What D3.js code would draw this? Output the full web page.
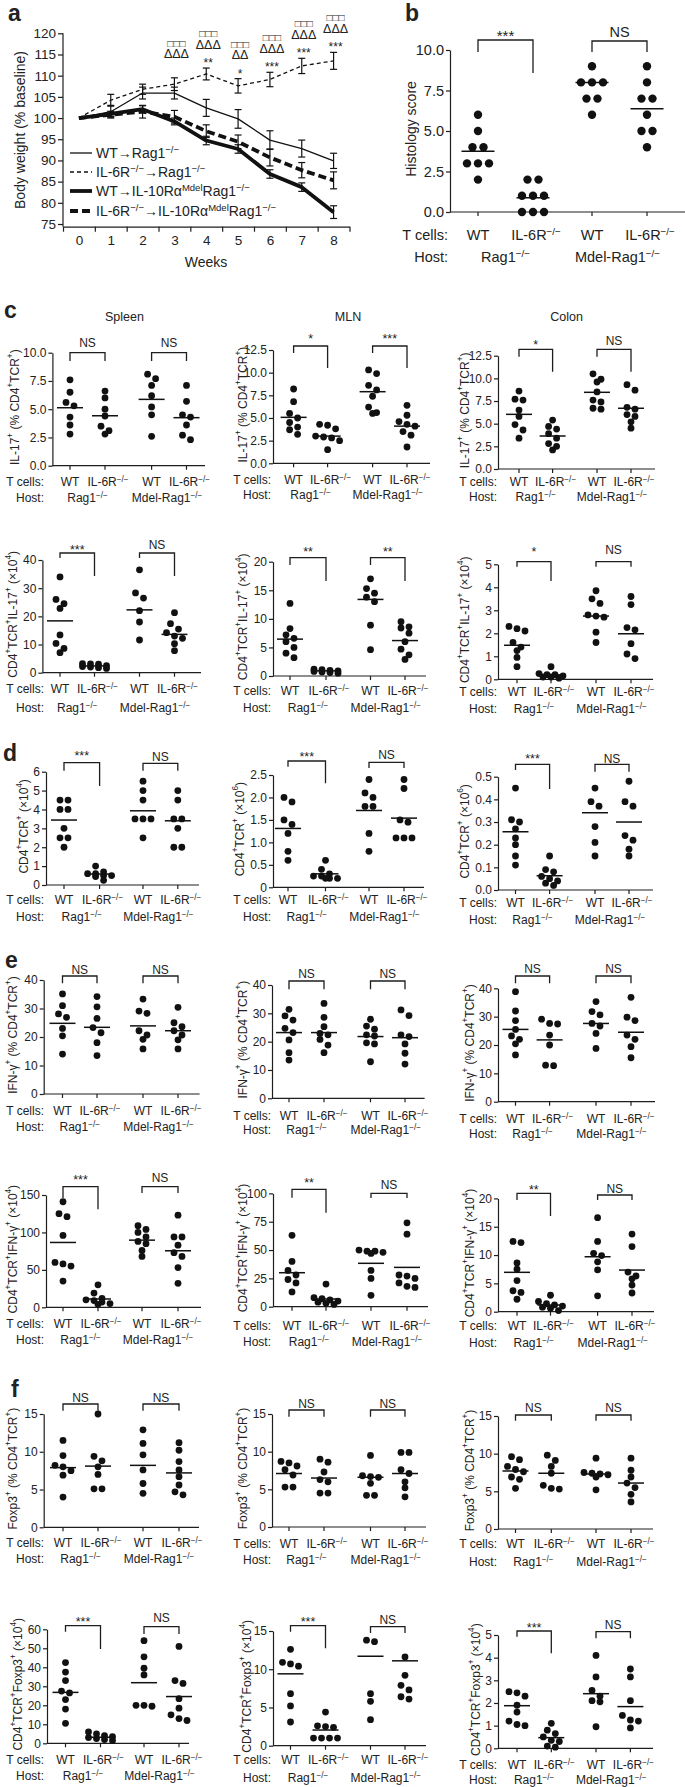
<!DOCTYPE html>
<html><head><meta charset="utf-8">
<script src="https://cdn.jsdelivr.net/npm/d3@7"></script>
<style>
body{margin:0;background:#fff}
svg{display:block;background:#fff}
text{font-family:"Liberation Sans",Arial,Helvetica,"DejaVu Sans",sans-serif;fill:#222}
</style>
</head><body>
<svg id="fig" width="685" height="1787"></svg>
<script>
// ---------------- DATA ----------------
// Panel a: body weight (% baseline) by week
const weeks = [0,1,2,3,4,5,6,7,8];
const wtRag       = [100,101.5,105.9,105.9,102.4,99.8,94.8,92.8,89.9];
const wtRagErr    = [0,1.5,1.4,1.4,2.0,2.2,2.2,2.0,1.8];
const il6rRag     = [100,104.2,106.8,108.0,110.4,107.6,109.1,112.3,113.5];
const il6rRagErr  = [0,1.4,1.2,1.5,1.4,1.7,1.7,1.8,2.0];
const wtMdel      = [100,101.0,102.1,99.2,94.7,92.7,86.8,83.7,77.8];
const wtMdelErr   = [0,0.6,0.8,0.8,1.0,1.0,1.0,1.0,1.5];
const il6rMdel    = [100,100.8,101.5,100.3,96.9,94.4,90.7,87.7,85.3];
const il6rMdelErr = [0,0.6,1.5,1.5,1.5,1.6,2.0,1.8,2.0];
const legendLabels = ['WT→Rag1^{−/−}','IL-6R^{−/−}→Rag1^{−/−}','WT→IL-10Rα^{Mdel}Rag1^{−/−}','IL-6R^{−/−}→IL-10Rα^{Mdel}Rag1^{−/−}'];
const sigSquares   = ['','','','□□□','□□□','□□□','□□□','□□□','□□□'];
const sigTriangles = ['','','','ΔΔΔ','ΔΔΔ','ΔΔ','ΔΔΔ','ΔΔΔ','ΔΔΔ'];
const sigStars     = ['','','','','**','*','***','***','***'];

// group labels
const tcellLabels = ['WT','IL-6R^{−/−}','WT','IL-6R^{−/−}'];
const hostLabels  = ['Rag1^{−/−}','Mdel-Rag1^{−/−}'];

// Panel b: histology score
const bHist     = [[6,5,4,4,3,3,3,2],[2,2,1,1,1,0,0,0],[9,8,8,8,7,7,6],[9,8,7,7,6,5,5,4]];
const bHistMean = [3.75,0.875,8.0,6.375];

// Panel c: IL-17+ (% CD4+TCR+)
const cPctSpleen = [[7.6,6.5,5.6,5.3,4.3,3.6,2.8],[6.6,6.0,5.0,4.4,3.5,3.1,2.8],[8.1,7.7,7.1,6.2,5.2,4.5,2.6],[7.1,5.7,4.5,4.3,3.6,2.7,2.3]];
const cPctSpleenMean = [5.13,4.42,5.87,4.25];
const cPctMLN = [[8.2,6.8,5.5,5.0,4.5,4.0,3.7,3.2],[4.3,4.2,3.8,3.0,2.9,2.8,2.5,1.5],[10.3,9.9,8.6,8.1,7.4,6.2,5.6,5.5],[6.4,5.3,4.6,4.3,4.1,3.5,3.1,1.8]];
const cPctMLNMean = [5.07,3.0,7.9,4.1];
const cPctColon = [[8.6,7.7,7.6,6.5,5.8,4.9,4.3,3.4],[5.4,4.7,4.4,3.9,3.4,2.8,2.5,2.1],[10.5,9.9,9.6,8.5,7.6,7.4,6.7,6.6],[9.3,8.7,6.8,6.6,6.0,5.8,5.2,4.5]];
const cPctColonMean = [6.03,3.64,8.46,6.7];
// Panel c: CD4+TCR+IL-17+ (x10^4)
const cAbsSpleen = [[34,26,24.5,22.8,13.4,10.4,8.6,7.1],[3.2,3.1,3.0,2.5,2.2,2.0,1.8,1.5],[36.5,28.3,26.5,22,18,11.6],[21.3,17.4,15.5,14.2,13,12.2,10.3,7.8]];
const cAbsSpleenMean = [18.4,2.4,22.3,13.6];
const cAbsMLN = [[12.7,8.3,7.2,6.6,6.0,5.0,4.0,3.2],[1.2,1.1,1.0,0.9,0.8,0.7,0.6,0.5],[17,15.3,14.5,13.8,13,8.9,4.6],[9.5,8.6,8.4,7.5,6.0,4.7,3.7,2.9]];
const cAbsMLNMean = [6.45,0.9,13.4,6.2];
const cAbsColon = [[2.3,2.2,2.1,1.6,1.4,1.25,0.95,0.55],[0.55,0.25,0.2,0.2,0.15,0.1,0.1,0.05],[3.85,3.5,3.3,2.8,2.75,2.7,2.05,1.6],[3.6,3.25,2.25,2.15,1.55,1.1,0.9]];
const cAbsColonMean = [1.48,0.19,2.75,1.98];

// Panel d: CD4+TCR+
const dSpleen = [[4.5,4.5,4,4,3,2.5,2.5,2],[1.0,0.7,0.6,0.6,0.5,0.5,0.45,0.25],[5.5,5,4.5,3.5,3.5,3.5,2.5],[5,4.5,3.5,3.5,3.0,2.0,2.0]];
const dSpleenMean = [3.44,0.58,3.93,3.4];
const dMLN = [[2.0,1.9,1.5,1.4,1.2,0.8,0.6],[0.6,0.4,0.3,0.25,0.25,0.2,0.2,0.2],[2.4,2.1,2.0,1.8,1.8,1.2,0.8],[2.4,2.2,1.5,1.45,1.1,1.1,1.1]];
const dMLNMean = [1.31,0.3,1.71,1.54];
const dColon = [[0.45,0.31,0.30,0.27,0.23,0.20,0.15,0.11],[0.15,0.09,0.08,0.06,0.05,0.04,0.03,0.02],[0.45,0.39,0.37,0.28,0.21,0.15],[0.48,0.39,0.37,0.24,0.22,0.18,0.15]];
const dColonMean = [0.257,0.063,0.341,0.30];

// Panel e: IFN-γ+ (% CD4+TCR+)
const ePctSpleen = [[35.1,31,28.1,26.9,23,20.4,14],[34.2,30.6,26.5,23.3,21.5,18,13.5],[33.3,29.1,28.3,22.2,20.7,19.2,15.8],[30.4,25,23.6,22.2,20.7,19,15.8]];
const ePctSpleenMean = [24.8,23.4,23.9,22.2];
const ePctMLN = [[31.4,29.1,27.6,24.7,23.2,20.6,16.1,13.5],[33.5,28.6,25.3,22.9,22.4,20.8,18.8,16.1],[27.9,25.5,24.4,22.4,22,19.6,19.2,12.9],[31.2,29.2,22.4,21.8,19.2,15.9,12.1]];
const ePctMLNMean = [23.2,23.2,21.8,21.4];
const ePctColon = [[38.8,32,28.6,25.5,23.2,22,20.4,16.5],[29.1,27.6,27.4,23.5,20,12.9,12.7],[35.3,31.8,30.6,27.6,26.7,24.1,18.8],[36.8,29.8,28.6,23.5,22,19.4,15.5]];
const ePctColonMean = [25.5,21.8,27.6,24.5];
// Panel e: CD4+TCR+IFN-γ+ (x10^4)
const eAbsSpleen = [[141,125,121,96,60,58,55,35],[30,19,12,10,9,7,5,4],[109,104,100,94,88,85,76,68],[123,94,94,83,73,68,53,32]];
const eAbsSpleenMean = [86.6,11.1,89.7,75.5];
const eAbsMLN = [[63,40,32,28,24,21,13],[20,8,7,6,5,4,3,2],[50,49,49,48,47,32,25,10],[74,64,28,27,25,21,18,17]];
const eAbsMLNMean = [30,6.8,38.3,34.7];
const eAbsColon = [[12.4,12.2,8.6,7.5,5.5,3.7,3.4,2.2],[2.9,1.8,1.4,1.2,1.0,0.8,0.6,0.2],[16.6,12.4,10.3,9.9,8.8,7.4,2.8],[13.7,11.5,7.0,6.3,5.8,4.7,3.3]];
const eAbsColonMean = [6.95,1.18,9.7,7.35];

// Panel f: Foxp3+ (% CD4+TCR+)
const fPctSpleen = [[11.5,9.5,8.2,8.0,7.5,6.9,4.0],[15,9.4,8.8,8,7,5.1,5.1],[12.9,11.1,9.6,7.6,5.8,4.5],[11.2,10.2,8.7,7.6,6.7,5.6,4.7,4.3]];
const fPctSpleenMean = [7.9,8.1,8.2,7.2];
const fPctMLN = [[8.7,8.5,8.1,7.6,6.9,5.3,5.3],[9,8.6,7.3,6.3,6,4.5,4.5],[9.5,6.8,6.7,6.6,5.8,4.2,4.2],[9.9,9.9,7.6,7.1,6.0,5.2,4.0]];
const fPctMLNMean = [7.1,6.5,6.6,7.1];
const fPctColon = [[9.6,9.2,8.3,7.9,7.6,6.9,6.6,5.4],[9.8,9.1,8.3,7.4,5.8,5.4,5.3],[9.4,7.5,7.4,7.3,7.2,6.9,5.2],[9.4,7.8,6.9,6.1,5.5,4.6,3.6]];
const fPctColonMean = [7.7,7.4,7.3,6.1];
// Panel f: CD4+TCR+Foxp3+ (x10^4)
const fAbsSpleen = [[42.5,37.5,33,27.5,26.5,23,18,10.5],[6,5,4,3.5,3,2.5,2,1.5],[54,45.5,39.5,36,20,20,19.5],[51,33,31.5,23.5,18.5,15,13,12]];
const fAbsSpleenMean = [26.8,3.2,31.9,24.6];
const fAbsMLN = [[12.6,10.9,10.7,10.4,6.8,5.2,3.1],[4.4,2.6,2.5,2.4,1.0,1.0,1.0,1.0],[13.8,13.6,6.8,5.8,3.4],[11.6,9.2,7.9,7.3,6.4,6.1]];
const fAbsMLNMean = [9.4,2.05,11.7,11.1];
const fAbsColon = [[2.5,2.45,2.3,1.9,1.6,1.2,1.05,1.0],[1.1,0.8,0.65,0.5,0.35,0.3,0.1,0.05],[4.1,3.15,2.55,2.3,2.1,2.05,0.95],[3.5,3.15,2.1,1.45,1.25,1.2,0.9]];
const fAbsColonMean = [1.88,0.47,2.41,1.84];

// axis titles
const tIL17pct = 'IL-17^{+} (% CD4^{+}TCR^{+})';
const tIL17abs = 'CD4^{+}TCR^{+}IL-17^{+} (×10^{4})';
const tCD4e4 = 'CD4^{+}TCR^{+} (×10^{4})';
const tCD4e6 = 'CD4^{+}TCR^{+} (×10^{6})';
const tIFNpct = 'IFN-γ^{+} (% CD4^{+}TCR^{+})';
const tIFNabs = 'CD4^{+}TCR^{+}IFN-γ^{+} (×10^{4})';
const tFoxpct = 'Foxp3^{+} (% CD4^{+}TCR^{+})';
const tFoxabs = 'CD4^{+}TCR^{+}Foxp3^{+} (×10^{4})';

// ---------------- DRAWING ----------------
const svg = d3.select('#fig');
const INK = '#1e1e1e';
const FONT = '"Liberation Sans", Arial, Helvetica, "DejaVu Sans", sans-serif';

function rich(t, str) {
  str.split(/(\^\{[^}]*\})/).filter(s => s).forEach(s => {
    if (s.startsWith('^{')) t.append('tspan').attr('baseline-shift', 'super').attr('font-size', '68%').text(s.slice(2, -1));
    else t.append('tspan').text(s);
  });
  return t;
}
function label(x, y, str, fs, anchor, weight) {
  const t = svg.append('text').attr('x', x).attr('y', y).attr('font-size', fs)
    .attr('text-anchor', anchor || 'start').attr('font-weight', weight || 'normal');
  return rich(t, str);
}
function styleAxis(g, fs) {
  g.attr('font-family', FONT).attr('font-size', fs);
  g.selectAll('path,line').attr('stroke', INK).attr('stroke-width', 1.2);
  g.selectAll('text').attr('fill', INK);
}

// panel letters
[['a', 8, 21], ['b', 405, 21], ['c', 4, 318], ['d', 3, 761], ['e', 5, 968], ['f', 11, 1397]]
  .forEach(([s, x, y]) => label(x, y, s, 23, 'start', 'bold'));

// ---------- Panel a ----------
(function () {
  const x = d3.scaleLinear().domain([-0.5, 8.5]).range([63, 349.5]);
  const y = d3.scaleLinear().domain([75, 120]).range([224, 33.3]);
  const yBase = 226.7;
  const g = svg.append('g');
  const ya = g.append('g').attr('transform', 'translate(63,0)')
    .call(d3.axisLeft(y).tickValues(d3.range(75, 121, 5)).tickSize(5).tickPadding(2).tickSizeOuter(0));
  ya.select('.domain').remove();
  styleAxis(ya, 13.5);
  g.append('line').attr('x1', 63).attr('x2', 63).attr('y1', 33.3).attr('y2', yBase).attr('stroke', INK).attr('stroke-width', 1.2);
  const xa = g.append('g').attr('transform', `translate(0,${yBase})`)
    .call(d3.axisBottom(x).tickValues(d3.range(-0.5, 8.6, 1)).tickFormat('').tickSize(5).tickSizeOuter(0));
  styleAxis(xa, 13.5);
  const xl = g.append('g').attr('transform', `translate(0,${yBase})`)
    .call(d3.axisBottom(x).tickValues(weeks).tickSize(0).tickPadding(9));
  xl.select('.domain').remove();
  styleAxis(xl, 13.5);
  label(206, 267, 'Weeks', 14, 'middle');
  svg.append('text').attr('transform', `translate(20,130) rotate(-90)`).attr('text-anchor', 'middle')
    .attr('dominant-baseline', 'central').attr('font-size', 14).text('Body weight (% baseline)');

  const series = [
    { v: wtRag, e: wtRagErr, w: 1.3, dash: null },
    { v: il6rRag, e: il6rRagErr, w: 1.3, dash: '4,3' },
    { v: wtMdel, e: wtMdelErr, w: 3.8, dash: null },
    { v: il6rMdel, e: il6rMdelErr, w: 3.8, dash: '8,4' }
  ];
  const line = d3.line().x(d => x(d.w)).y(d => y(d.v));
  series.forEach(s => {
    const pts = weeks.map((w, i) => ({ w, v: s.v[i], e: s.e[i] }));
    g.append('path').datum(pts).attr('d', line).attr('fill', 'none').attr('stroke', '#111')
      .attr('stroke-width', s.w).attr('stroke-dasharray', s.dash).attr('stroke-linejoin', 'round');
    const eb = g.append('g').attr('stroke', '#111').attr('stroke-width', 1.2);
    pts.filter(d => d.e > 0).forEach(d => {
      eb.append('line').attr('x1', x(d.w)).attr('x2', x(d.w)).attr('y1', y(d.v - d.e)).attr('y2', y(d.v + d.e));
      [d.v - d.e, d.v + d.e].forEach(v => eb.append('line').attr('x1', x(d.w) - 3.5).attr('x2', x(d.w) + 3.5).attr('y1', y(v)).attr('y2', y(v)));
    });
  });
  // legend
  const ly = [153, 172, 191, 211];
  series.forEach((s, i) => {
    g.append('line').attr('x1', 70).attr('x2', 92).attr('y1', ly[i]).attr('y2', ly[i]).attr('stroke', '#111')
      .attr('stroke-width', s.w).attr('stroke-dasharray', s.dash);
    label(96, ly[i] + 5, legendLabels[i], 14, 'start');
  });
  // significance marks above the IL-6R->Rag1 curve
  weeks.forEach((w, i) => {
    const top = y(il6rRag[i] + il6rRagErr[i]);
    const cx = x(w) + 2;
    if (sigStars[i]) svg.append('text').attr('x', cx).attr('y', top - 8 + 7).attr('text-anchor', 'middle').attr('font-size', 12).text(sigStars[i]);
    if (sigTriangles[i]) svg.append('text').attr('x', cx).attr('y', top - 24 + 4.5).attr('text-anchor', 'middle').attr('font-size', 12.5).text(sigTriangles[i]);
    if (sigSquares[i]) svg.append('text').attr('x', cx).attr('y', top - 35 + 4).attr('text-anchor', 'middle').attr('font-size', 10).text(sigSquares[i]);
  });
})();

// ---------- dot-plot panels ----------
const fmt1 = d3.format('.1f');
const fmtInt = d3.format('d');
const fmtZero1 = d => d === 0 ? '0' : fmt1(d);

function swarm(vals, y, cx, r, sp) {
  const pts = vals.map(v => ({ v, py: y(v) })).sort((a, b) => a.py - b.py);
  const binH = r * 1.7;
  const rows = [];
  let cur = null;
  pts.forEach(p => {
    if (!cur || p.py - cur[0].py > binH || cur.length >= 4) { cur = [p]; rows.push(cur); }
    else cur.push(p);
  });
  rows.forEach(row => row.forEach((p, i) => { p.px = cx + (i - (row.length - 1) / 2) * sp; }));
  return pts;
}

function dotPanel(p) {
  const fs = p.fs || 12, r = p.r || 3.4, sp = p.sp || 8, hw = p.hw || 13;
  const g = svg.append('g');
  const y = d3.scaleLinear().domain([0, p.max]).range([p.y0, p.y1]);
  const x = d3.scaleOrdinal().domain([0, 1, 2, 3]).range(p.cats);
  const ticks = d3.range(0, p.max + p.step * 0.01, p.step);
  const ya = g.append('g').attr('transform', `translate(${p.ax},0)`)
    .call(d3.axisLeft(y).tickValues(ticks).tickFormat(p.fmt).tickSize(4).tickPadding(2).tickSizeOuter(0));
  styleAxis(ya, fs);
  g.append('line').attr('x1', p.ax).attr('x2', p.axEnd).attr('y1', p.y0).attr('y2', p.y0)
    .attr('stroke', INK).attr('stroke-width', 1.2);
  g.selectAll(null).data([0, 1, 2, 3]).join('line')
    .attr('x1', d => x(d)).attr('x2', d => x(d)).attr('y1', p.y0).attr('y2', p.y0 + 4)
    .attr('stroke', INK).attr('stroke-width', 1.2);
  p.data.forEach((vals, gi) => {
    const pts = swarm(vals, y, x(gi), r, sp);
    g.selectAll(null).data(pts).join('circle')
      .attr('cx', d => d.px).attr('cy', d => d.py).attr('r', r).attr('fill', '#111');
    g.append('line').attr('x1', x(gi) - hw).attr('x2', x(gi) + hw)
      .attr('y1', y(p.means[gi])).attr('y2', y(p.means[gi])).attr('stroke', '#111').attr('stroke-width', 1.5);
  });
  [[0, 1], [2, 3]].forEach((pair, bi) => {
    const [top, l, rr] = p.br[bi];
    g.append('path').attr('d', `M${x(pair[0])},${l}V${top}H${x(pair[1])}V${rr}`)
      .attr('fill', 'none').attr('stroke', INK).attr('stroke-width', 1.3);
    const s = p.sig[bi];
    const star = s.includes('*');
    const sfs = star ? (p.starFs || 12.5) : (p.nsFs || 12);
    svg.append('text').attr('x', (x(pair[0]) + x(pair[1])) / 2)
      .attr('y', p.sigY[bi] + (star ? 0.6 : 0.36) * sfs)
      .attr('text-anchor', 'middle').attr('font-size', sfs).text(s);
  });
  label(p.lx, p.tY + 0.36 * fs, 'T cells:', fs, 'end');
  label(p.lx, p.hY + 0.36 * fs, 'Host:', fs, 'end');
  tcellLabels.forEach((t, i) => label(x(i) + (i % 2 ? 3 : 0), p.tY + 0.36 * fs, t, fs, 'middle'));
  hostLabels.forEach((h, i) => label((x(2 * i) + x(2 * i + 1)) / 2 + (i ? -2 : 0), p.hY + 0.36 * fs, h, fs, 'middle'));
  const t = svg.append('text').attr('transform', `translate(${p.tx},${(p.y0 + p.y1) / 2 - 2}) rotate(-90)`)
    .attr('text-anchor', 'middle').attr('dominant-baseline', 'central').attr('font-size', p.tfs || fs);
  rich(t, p.title);
  if (p.head) label(p.headX, 321, p.head, 12.5, 'middle');
}

const panels = [
  // b
  { data: bHist, means: bHistMean, max: 10, step: 2.5, fmt: fmt1, ax: 450, axEnd: 685, y0: 212, y1: 50,
    cats: [478, 533, 592, 647], br: [[40, 52, 73], [41, 52, 52]], sig: ['***', 'NS'], sigY: [32, 32],
    tY: 235, hY: 257, lx: 448, tx: 411, title: 'Histology score', fs: 14.5, tfs: 14, r: 4.2, sp: 11, hw: 16.5,
    starFs: 15, nsFs: 14.5 },
  // c row 1
  { data: cPctSpleen, means: cPctSpleenMean, max: 10, step: 2.5, fmt: fmt1, ax: 52.4, axEnd: 205, y0: 465.7, y1: 352.7,
    cats: [70, 105, 151.6, 186.5], br: [[352.7, 361, 361], [352.7, 361, 361]], sig: ['NS', 'NS'], sigY: [343, 343],
    tY: 481.7, hY: 497.3, lx: 44, tx: 15, title: tIL17pct, head: 'Spleen', headX: 124.5 },
  { data: cPctMLN, means: cPctMLNMean, max: 12.5, step: 2.5, fmt: fmt1, ax: 273, axEnd: 430, y0: 463.3, y1: 350,
    cats: [293.6, 327.6, 372.6, 407], br: [[346, 353, 368], [346, 353, 368]], sig: ['*', '***'], sigY: [335, 335],
    tY: 480, hY: 495, lx: 271, tx: 242.5, title: tIL17pct, head: 'MLN', headX: 348 },
  { data: cPctColon, means: cPctColonMean, max: 12.5, step: 2.5, fmt: fmt1, ax: 498, axEnd: 655, y0: 469, y1: 355.7,
    cats: [519, 552.6, 597, 631], br: [[349.3, 356.7, 371.7], [349.3, 356.7, 371.7]], sig: ['*', 'NS'], sigY: [341.7, 340.7],
    tY: 481.7, hY: 496.7, lx: 497, tx: 465, title: tIL17pct, head: 'Colon', headX: 566.6 },
  // c row 2
  { data: cAbsSpleen, means: cAbsSpleenMean, max: 40, step: 10, fmt: fmtInt, ax: 42.4, axEnd: 201, y0: 672.7, y1: 560,
    cats: [60, 94.5, 139.5, 174.5], br: [[553, 558, 576], [553, 558, 576]], sig: ['***', 'NS'], sigY: [546, 545],
    tY: 688.3, hY: 707.3, lx: 44, tx: 13, title: tIL17abs },
  { data: cAbsMLN, means: cAbsMLNMean, max: 20, step: 5, fmt: fmtInt, ax: 273, axEnd: 426, y0: 676, y1: 561.7,
    cats: [290, 326, 370.5, 405], br: [[557.7, 565, 581], [557.7, 565, 581]], sig: ['**', '**'], sigY: [548.3, 548.3],
    tY: 690.7, hY: 707.3, lx: 271, tx: 242.5, title: tIL17abs },
  { data: cAbsColon, means: cAbsColonMean, max: 5, step: 1, fmt: fmtInt, ax: 498, axEnd: 653, y0: 679.3, y1: 564.3,
    cats: [517, 551, 596, 631], br: [[561.7, 566.7, 581], [561.7, 566.7, 566.7]], sig: ['*', 'NS'], sigY: [548.3, 550],
    tY: 691.7, hY: 708.3, lx: 497, tx: 465, title: tIL17abs },
  // d
  { data: dSpleen, means: dSpleenMean, max: 6, step: 1, fmt: fmtInt, ax: 46, axEnd: 199, y0: 885, y1: 771.7,
    cats: [64, 99.6, 143, 177.8], br: [[762.7, 770.7, 786], [763.3, 770.7, 770.7]], sig: ['***', 'NS'], sigY: [752.7, 756.7],
    tY: 900, hY: 916.7, lx: 44, tx: 24, title: tCD4e4 },
  { data: dMLN, means: dMLNMean, max: 2.5, step: 0.5, fmt: fmtZero1, ax: 273, axEnd: 424, y0: 887.3, y1: 775,
    cats: [288, 325.5, 369, 404], br: [[761, 766.7, 783.3], [762.3, 768, 768]], sig: ['***', 'NS'], sigY: [753, 755],
    tY: 900, hY: 916.5, lx: 271, tx: 240, title: tCD4e6 },
  { data: dColon, means: dColonMean, max: 0.5, step: 0.1, fmt: fmt1, ax: 498, axEnd: 653, y0: 890, y1: 776.7,
    cats: [515.5, 549.6, 595, 629], br: [[764.3, 770, 789], [764.3, 771.7, 771.7]], sig: ['***', 'NS'], sigY: [755, 759],
    tY: 902.5, hY: 919.5, lx: 497, tx: 465, title: tCD4e6 },
  // e row 1
  { data: ePctSpleen, means: ePctSpleenMean, max: 40, step: 10, fmt: fmtInt, ax: 43.7, axEnd: 199.6, y0: 1094, y1: 980,
    cats: [62.5, 97, 143, 178], br: [[976, 983.3, 983.3], [976, 983.3, 983.3]], sig: ['NS', 'NS'], sigY: [969.3, 969.3],
    tY: 1110.7, hY: 1126.7, lx: 44, tx: 13, title: tIFNpct },
  { data: ePctMLN, means: ePctMLNMean, max: 40, step: 10, fmt: fmtInt, ax: 272, axEnd: 424.6, y0: 1098.3, y1: 985,
    cats: [289, 324, 370.5, 405], br: [[981, 989.3, 989.3], [981, 989.3, 989.3]], sig: ['NS', 'NS'], sigY: [974, 974],
    tY: 1116, hY: 1130, lx: 271, tx: 242.5, title: tIFNpct },
  { data: ePctColon, means: ePctColonMean, max: 40, step: 10, fmt: fmtInt, ax: 498, axEnd: 655, y0: 1101.7, y1: 988.3,
    cats: [515.5, 549.6, 596, 631], br: [[976, 983.3, 983.3], [976, 983.3, 983.3]], sig: ['NS', 'NS'], sigY: [968.3, 968.3],
    tY: 1118.3, hY: 1134, lx: 497, tx: 469.6, title: tIFNpct },
  // e row 2
  { data: eAbsSpleen, means: eAbsSpleenMean, max: 150, step: 50, fmt: fmtInt, ax: 46, axEnd: 201, y0: 1307.3, y1: 1195,
    cats: [63, 98, 142, 178], br: [[1186.7, 1198, 1209.3], [1186.7, 1193, 1193]], sig: ['***', 'NS'], sigY: [1176, 1178],
    tY: 1323.3, hY: 1339.3, lx: 44, tx: 13, title: tIFNabs },
  { data: eAbsMLN, means: eAbsMLNMean, max: 100, step: 25, fmt: fmtInt, ax: 273, axEnd: 428, y0: 1306.7, y1: 1193.4,
    cats: [292, 326, 371, 407], br: [[1189.3, 1197.7, 1212.7], [1193.3, 1198, 1198]], sig: ['**', 'NS'], sigY: [1179.3, 1185],
    tY: 1326, hY: 1341.7, lx: 271, tx: 242.5, title: tIFNabs },
  { data: eAbsColon, means: eAbsColonMean, max: 20, step: 5, fmt: fmtInt, ax: 498, axEnd: 654, y0: 1311.7, y1: 1198.4,
    cats: [517, 550.5, 597.6, 632], br: [[1193.3, 1200, 1216], [1195, 1200, 1200]], sig: ['**', 'NS'], sigY: [1186, 1188.3],
    tY: 1326, hY: 1342.3, lx: 497, tx: 470, title: tIFNabs },
  // f row 1
  { data: fPctSpleen, means: fPctSpleenMean, max: 15, step: 5, fmt: fmtInt, ax: 43.7, axEnd: 199, y0: 1527.3, y1: 1414,
    cats: [63, 98, 143, 179], br: [[1404, 1410.7, 1410.7], [1404, 1410.7, 1410.7]], sig: ['NS', 'NS'], sigY: [1397.7, 1397.7],
    tY: 1542.7, hY: 1558.3, lx: 44, tx: 13, title: tFoxpct },
  { data: fPctMLN, means: fPctMLNMean, max: 15, step: 5, fmt: fmtInt, ax: 272, axEnd: 426, y0: 1527, y1: 1414,
    cats: [289, 324, 370.5, 405], br: [[1410, 1416.7, 1416.7], [1410, 1416.7, 1416.7]], sig: ['NS', 'NS'], sigY: [1403.3, 1403.3],
    tY: 1543.3, hY: 1560, lx: 271, tx: 242.5, title: tFoxpct },
  { data: fPctColon, means: fPctColonMean, max: 15, step: 5, fmt: fmtInt, ax: 498, axEnd: 653, y0: 1529, y1: 1416,
    cats: [515.5, 551.3, 596, 631], br: [[1415, 1420.7, 1420.7], [1415, 1420.7, 1420.7]], sig: ['NS', 'NS'], sigY: [1407.3, 1407.3],
    tY: 1544, hY: 1561.7, lx: 497, tx: 469.6, title: tFoxpct },
  // f row 2
  { data: fAbsSpleen, means: fAbsSpleenMean, max: 60, step: 10, fmt: fmtInt, ax: 47, axEnd: 189, y0: 1743.3, y1: 1629.3,
    cats: [65.5, 100.5, 144, 179], br: [[1625.7, 1631.7, 1649], [1626.7, 1634, 1634]], sig: ['***', 'NS'], sigY: [1618.3, 1617.3],
    tY: 1760, hY: 1776, lx: 44, tx: 17.5, title: tFoxabs },
  { data: fAbsMLN, means: fAbsMLNMean, max: 15, step: 5, fmt: fmtInt, ax: 273, axEnd: 426, y0: 1745.7, y1: 1631,
    cats: [290.5, 325.5, 370.5, 405], br: [[1625.7, 1631.7, 1648.3], [1626.7, 1633, 1633]], sig: ['***', 'NS'], sigY: [1618.3, 1620],
    tY: 1760, hY: 1777.7, lx: 271, tx: 247, title: tFoxabs },
  { data: fAbsColon, means: fAbsColonMean, max: 5, step: 1, fmt: fmtInt, ax: 498, axEnd: 653, y0: 1748.3, y1: 1635,
    cats: [517, 551.3, 596, 630.4], br: [[1631, 1636.7, 1653.3], [1631.7, 1638.3, 1638.3]], sig: ['***', 'NS'], sigY: [1624, 1625],
    tY: 1765, hY: 1780, lx: 497, tx: 476, title: tFoxabs }
];
panels.forEach(dotPanel);
</script>
</body></html>
